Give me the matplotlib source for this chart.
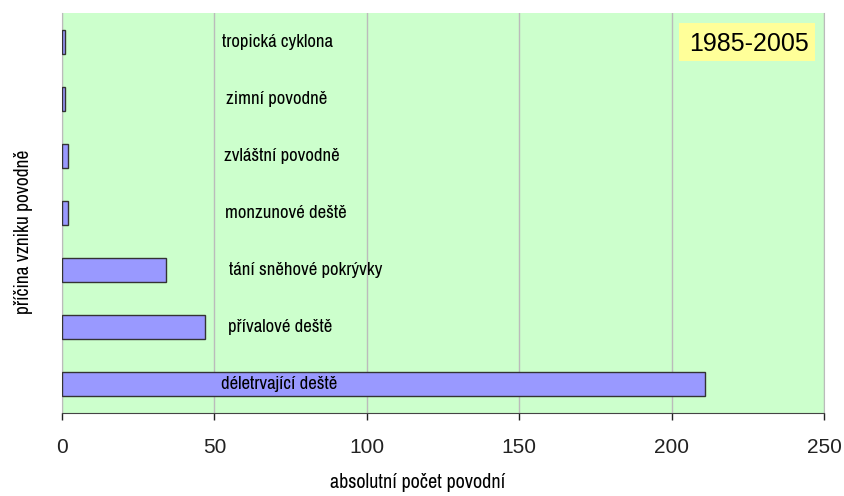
import matplotlib.pyplot as plt
from matplotlib import font_manager
from matplotlib.patches import Rectangle

# data (bottom to top)
causes = ["déletrvající deště", "přívalové deště", "tání sněhové pokrývky",
          "monzunové deště", "zvláštní povodně", "zimní povodně", "tropická cyklona"]
counts = [211, 47, 34, 2, 2, 1, 1]
label_x = [52.3, 54.3, 54.9, 53.6, 53.3, 53.9, 52.6]
xticks = [0, 50, 100, 150, 200, 250]
period = "1985-2005"

names = {f.name for f in font_manager.fontManager.ttflist}
narrow = next((n for n in ["Archivo Narrow", "Roboto Condensed", "PT Sans Narrow"] if n in names),
              "Liberation Sans")
plt.rcParams['font.family'] = ['Liberation Sans', 'DejaVu Sans']

fig = plt.figure(figsize=(8.45, 4.96), dpi=100)
ax = fig.add_axes([0.0734, 0.1673, 0.9018, 0.8065])
ax.set_facecolor("#CCFFCC")

pos = list(range(len(causes)))
ax.barh(pos, counts, height=0.42, color="#9999FF", edgecolor="#333333", linewidth=1, zorder=3)

for p, name, lx in zip(pos, causes, label_x):
    ax.text(lx, p, name, fontsize=13.5, family=[narrow, 'DejaVu Sans'],
            va="center", ha="left", zorder=4)

ax.set_xlim(0, 250)
ax.set_ylim(-0.5, len(causes) - 0.5)
ax.set_xticks(xticks)
ax.set_yticks([])
ax.grid(axis="x", color="#BBBBBB", linewidth=1, zorder=1)
ax.tick_params(axis="x", direction="out", length=5, width=1, colors="#222222", labelsize=15, pad=13)

ax.spines["top"].set_visible(False)
ax.spines["right"].set_color("#BBBBBB")
ax.spines["left"].set_color("#BBBBBB")
ax.spines["bottom"].set_color("#444444")

ax.set_xlabel("absolutní počet povodní", fontsize=14.5, family=[narrow, 'DejaVu Sans'])
ax.set_ylabel("příčina vzniku povodně", fontsize=14, family=[narrow, 'DejaVu Sans'])
ax.xaxis.set_label_coords(0.467, -0.15)
ax.yaxis.set_label_coords(-0.038, 0.4525)

ax.add_patch(Rectangle((0.8097, 0.88), 0.1783, 0.095, transform=ax.transAxes,
                       facecolor="#FFFF99", edgecolor="none", zorder=5))
ax.text(0.9803, 0.9225, period, transform=ax.transAxes, fontsize=18,
        ha="right", va="center", zorder=6)

fig.savefig("out.png", dpi=100)
